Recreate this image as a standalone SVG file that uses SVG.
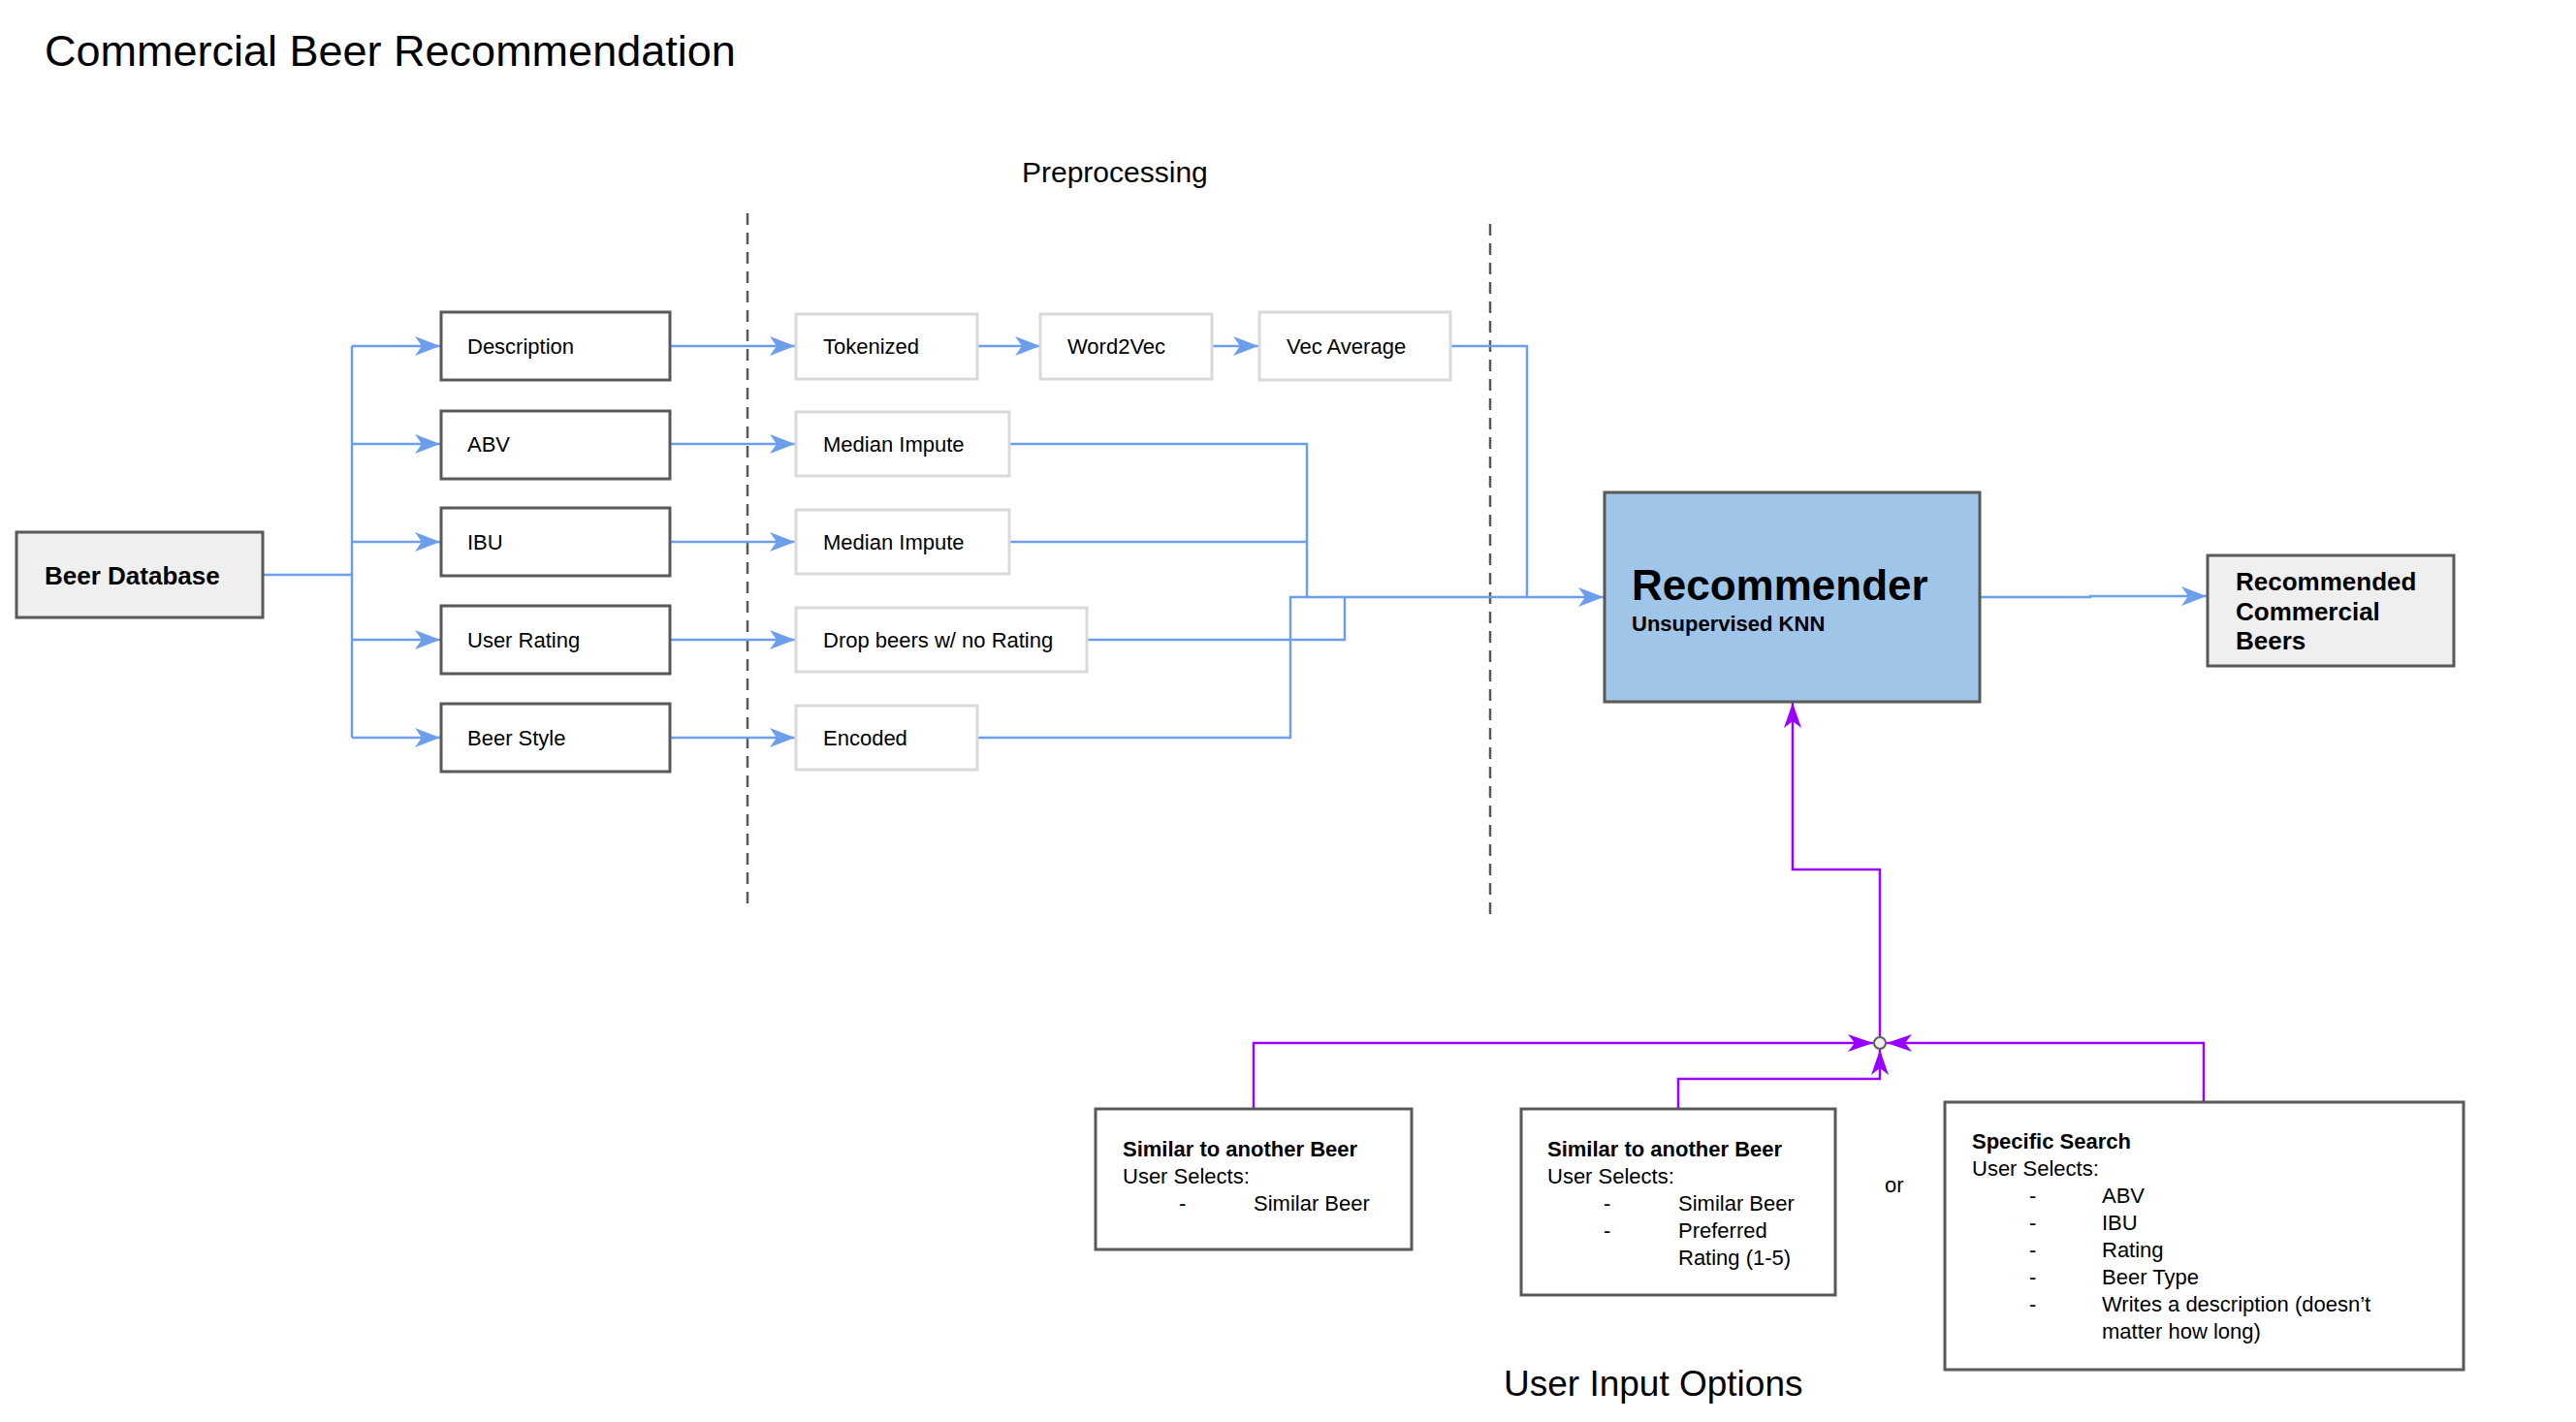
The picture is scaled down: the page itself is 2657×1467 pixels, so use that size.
<svg xmlns="http://www.w3.org/2000/svg" width="2657" height="1467" viewBox="0 0 2657 1467">
<style>
text{font-family:"Liberation Sans",Arial,sans-serif;fill:#000}
.dk{fill:#ffffff;stroke:#595959;stroke-width:3}
.gr{fill:#efefef;stroke:#595959;stroke-width:3}
.lt{fill:#ffffff;stroke:#d9d9d9;stroke-width:3}
.t22{font-size:22px}
.b22{font-size:22px;font-weight:bold}
.b26{font-size:26px;font-weight:bold}
.blue{fill:none;stroke:#6d9eeb;stroke-width:2.5}
.purp{fill:none;stroke:#9900ff;stroke-width:2.5}
.dash{fill:none;stroke:#595959;stroke-width:2.5;stroke-dasharray:12 8}
</style>
<defs>
<marker id="ab" markerUnits="userSpaceOnUse" markerWidth="30" markerHeight="24" viewBox="-28 -12 30 24" refX="0" refY="0" orient="auto"><path d="M0,0 L-26,-10 L-19,0 L-26,10 Z" fill="#6d9eeb"/></marker>
<marker id="ap" markerUnits="userSpaceOnUse" markerWidth="30" markerHeight="24" viewBox="-28 -12 30 24" refX="0" refY="0" orient="auto"><path d="M0,0 L-26,-9 L-19,0 L-26,9 Z" fill="#9900ff"/></marker>
</defs>
<rect width="2657" height="1467" fill="#ffffff"/>

<text x="46" y="68" style="font-size:45px">Commercial Beer Recommendation</text>
<text x="1054" y="188" style="font-size:30px">Preprocessing</text>
<text x="1551" y="1440" style="font-size:37px">User Input Options</text>
<text x="1944" y="1230" class="t22">or</text>

<g id="dividers">
<path class="dash" d="M771,220 V935"/>
<path class="dash" d="M1537,231 V945"/>
</g>

<g id="connectors">
<path class="blue" d="M271,593 H363"/>
<path class="blue" d="M363,357 V761"/>
<path class="blue" d="M363,357 H454" marker-end="url(#ab)"/>
<path class="blue" d="M363,458 H454" marker-end="url(#ab)"/>
<path class="blue" d="M363,559 H454" marker-end="url(#ab)"/>
<path class="blue" d="M363,660 H454" marker-end="url(#ab)"/>
<path class="blue" d="M363,761 H454" marker-end="url(#ab)"/>
<path class="blue" d="M691,357 H820" marker-end="url(#ab)"/>
<path class="blue" d="M691,458 H820" marker-end="url(#ab)"/>
<path class="blue" d="M691,559 H820" marker-end="url(#ab)"/>
<path class="blue" d="M691,660 H820" marker-end="url(#ab)"/>
<path class="blue" d="M691,761 H820" marker-end="url(#ab)"/>
<path class="blue" d="M1008,357 H1073" marker-end="url(#ab)"/>
<path class="blue" d="M1250,357 H1298" marker-end="url(#ab)"/>
<path class="blue" d="M1496,357 H1575 V616"/>
<path class="blue" d="M1041,458 H1348 V616"/>
<path class="blue" d="M1041,559 H1348"/>
<path class="blue" d="M1121,660 H1387 V616"/>
<path class="blue" d="M1008,761 H1331 V616 H1654" marker-end="url(#ab)"/>
<path class="blue" d="M2042,616 H2156 V615 H2276" marker-end="url(#ab)"/>
<path class="purp" d="M1939,1069 V897 H1849 V725" marker-end="url(#ap)"/>
<path class="purp" d="M1293,1144 V1076 H1932" marker-end="url(#ap)"/>
<path class="purp" d="M1731,1144 V1113 H1939 V1083" marker-end="url(#ap)"/>
<path class="purp" d="M2273,1137 V1076 H1946" marker-end="url(#ap)"/>
<circle cx="1939" cy="1076" r="6" fill="#eeeeee" stroke="#595959" stroke-width="2"/>
</g>

<g id="beer-database">
<rect class="gr" x="17" y="549" width="254" height="88"/>
<text x="46" y="603" class="b26">Beer Database</text>
</g>

<g id="description">
<rect class="dk" x="455" y="322" width="236" height="70"/>
<text x="482" y="365" class="t22">Description</text>
</g>
<g id="abv">
<rect class="dk" x="455" y="424" width="236" height="70"/>
<text x="482" y="466" class="t22">ABV</text>
</g>
<g id="ibu">
<rect class="dk" x="455" y="524" width="236" height="70"/>
<text x="482" y="567" class="t22">IBU</text>
</g>
<g id="user-rating">
<rect class="dk" x="455" y="625" width="236" height="70"/>
<text x="482" y="668" class="t22">User Rating</text>
</g>
<g id="beer-style">
<rect class="dk" x="455" y="726" width="236" height="70"/>
<text x="482" y="769" class="t22">Beer Style</text>
</g>

<g id="tokenized">
<rect class="lt" x="821" y="324" width="187" height="67"/>
<text x="849" y="365" class="t22">Tokenized</text>
</g>
<g id="word2vec">
<rect class="lt" x="1073" y="324" width="177" height="67"/>
<text x="1101" y="365" class="t22">Word2Vec</text>
</g>
<g id="vec-average">
<rect class="lt" x="1299" y="322" width="197" height="70"/>
<text x="1327" y="365" class="t22">Vec Average</text>
</g>
<g id="median-impute-1">
<rect class="lt" x="821" y="425" width="220" height="66"/>
<text x="849" y="466" class="t22">Median Impute</text>
</g>
<g id="median-impute-2">
<rect class="lt" x="821" y="526" width="220" height="66"/>
<text x="849" y="567" class="t22">Median Impute</text>
</g>
<g id="drop-beers">
<rect class="lt" x="821" y="627" width="300" height="66"/>
<text x="849" y="668" class="t22">Drop beers w/ no Rating</text>
</g>
<g id="encoded">
<rect class="lt" x="821" y="728" width="187" height="66"/>
<text x="849" y="769" class="t22">Encoded</text>
</g>

<g id="recommender">
<rect x="1655" y="508" width="387" height="216" fill="#9fc5e8" stroke="#595959" stroke-width="3"/>
<text x="1683" y="619" style="font-size:44px;font-weight:bold">Recommender</text>
<text x="1683" y="651" class="b22">Unsupervised KNN</text>
</g>

<g id="recommended-beers">
<rect class="gr" x="2277" y="573" width="254" height="114"/>
<text x="2306" y="609" class="b26">Recommended</text>
<text x="2306" y="640" class="b26">Commercial</text>
<text x="2306" y="670" class="b26">Beers</text>
</g>

<g id="option-similar">
<rect class="dk" x="1130" y="1144" width="326" height="145"/>
<text x="1158" y="1193" class="b22">Similar to another Beer</text>
<text x="1158" y="1221" class="t22">User Selects:</text>
<text x="1216" y="1249" class="t22">-</text>
<text x="1293" y="1249" class="t22">Similar Beer</text>
</g>

<g id="option-similar-rating">
<rect class="dk" x="1569" y="1144" width="324" height="192"/>
<text x="1596" y="1193" class="b22">Similar to another Beer</text>
<text x="1596" y="1221" class="t22">User Selects:</text>
<text x="1654" y="1249" class="t22">-</text>
<text x="1731" y="1249" class="t22">Similar Beer</text>
<text x="1654" y="1277" class="t22">-</text>
<text x="1731" y="1277" class="t22">Preferred</text>
<text x="1731" y="1305" class="t22">Rating (1-5)</text>
</g>

<g id="option-specific">
<rect class="dk" x="2006" y="1137" width="535" height="276"/>
<text x="2034" y="1185" class="b22">Specific Search</text>
<text x="2034" y="1213" class="t22">User Selects:</text>
<text x="2093" y="1241" class="t22">-</text>
<text x="2168" y="1241" class="t22">ABV</text>
<text x="2093" y="1269" class="t22">-</text>
<text x="2168" y="1269" class="t22">IBU</text>
<text x="2093" y="1297" class="t22">-</text>
<text x="2168" y="1297" class="t22">Rating</text>
<text x="2093" y="1325" class="t22">-</text>
<text x="2168" y="1325" class="t22">Beer Type</text>
<text x="2093" y="1353" class="t22">-</text>
<text x="2168" y="1353" class="t22">Writes a description (doesn’t</text>
<text x="2168" y="1381" class="t22">matter how long)</text>
</g>
</svg>
